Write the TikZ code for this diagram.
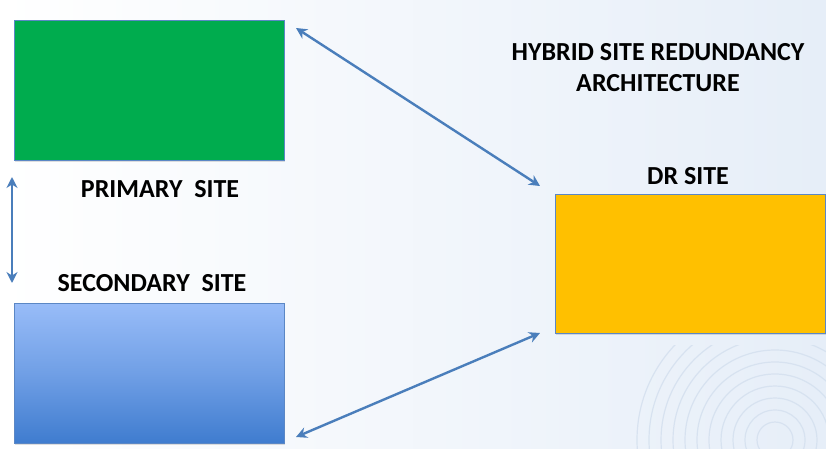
\documentclass[tikz,border=0pt]{standalone}
\usepackage{fontspec}
\setmainfont{Carlito}
\usetikzlibrary{arrows.meta,shadows}
\definecolor{arrowblue}{HTML}{4A7EBB}
\definecolor{boxedge}{HTML}{5B87C5}
\definecolor{greenfill}{HTML}{00AC4E}
\definecolor{yellowfill}{HTML}{FFC000}
\definecolor{bluetop}{HTML}{98BCF8}
\definecolor{bluebot}{HTML}{3F7CCF}
\definecolor{bgA}{HTML}{FFFFFF}
\definecolor{bgB}{HTML}{E6EEF8}
\definecolor{printc}{HTML}{D3DFEE}
\tikzset{
  sitebox/.style={draw=boxedge, line width=0.8pt, minimum width=270pt, minimum height=140pt, inner sep=0pt, anchor=north west,
    drop shadow={shadow xshift=1pt, shadow yshift=-1.5pt, opacity=0.25}},
  sitelabel/.style={font=\bfseries\fontsize{26}{30}\selectfont, text=black, inner sep=0pt},
  link/.style={arrowblue, line width=2.4pt, {Stealth[length=11pt,width=11pt]}-{Stealth[length=11pt,width=11pt]}},
}
\begin{document}
\begin{tikzpicture}[x=1pt,y=-1pt]
\useasboundingbox (0,0) rectangle (826,449);
\shade[shading=axis, shading angle=-60, left color=bgA, right color=bgB] (0,0) rectangle (826,449);
% faint fingerprint arcs
\begin{scope}
\clip (560,345) rectangle (826,449);
\foreach \r in {18,30,...,140} {
  \draw[printc, line width=1.2pt, opacity=0.8] (775,440) circle (\r);
}
\end{scope}
% boxes
\node[sitebox, fill=greenfill] (primary) at (14,20) {};
\node[sitebox, top color=bluetop, bottom color=bluebot, middle color=bluetop!55!bluebot] (secondary) at (14,303) {};
\node[sitebox, fill=yellowfill, minimum height=139pt] (dr) at (555,194) {};
% labels
\node[sitelabel] (plabel) at (160,189) {PRIMARY\ \ SITE};
\node[sitelabel] (slabel) at (152,283) {SECONDARY\ \ SITE};
\node[sitelabel] (drlabel) at (688,176) {DR SITE};
\node[sitelabel, align=center, font=\bfseries\fontsize{26}{31}\selectfont] (title) at (658,68) {HYBRID SITE REDUNDANCY\\ARCHITECTURE};
% connectors
\coordinate (a1) at (296,28);
\coordinate (a2) at (540,186);
\coordinate (b1) at (296,437);
\coordinate (b2) at (540,333);
\coordinate (c1) at (12,177);
\coordinate (c2) at (12,283);
\draw[link] (a1) -- (a2);
\draw[link] (b1) -- (b2);
\draw[link] (c1) -- (c2);
\end{tikzpicture}
\end{document}
